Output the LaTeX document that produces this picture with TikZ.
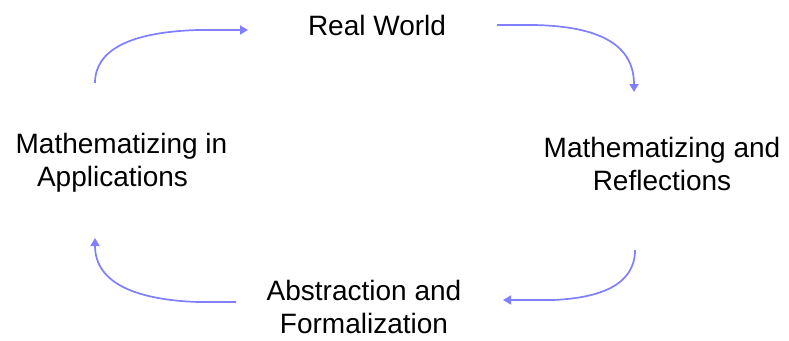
\documentclass[tikz,border=0pt]{standalone}
\usepackage{fontspec}
\setmainfont{Liberation Sans}
\usetikzlibrary{arrows.meta}
\definecolor{arrowblue}{RGB}{128,128,255}
\tikzset{
  lbl/.style={anchor=north, inner sep=0pt, align=center, font=\fontsize{28bp}{33bp}\selectfont, text=black},
  flow/.style={draw=arrowblue, line width=1.7bp, -{Triangle[length=8bp,width=9bp]}}
}
\begin{document}
\begin{tikzpicture}[x=1bp,y=-1bp]
\useasboundingbox[fill=white] (0,0) rectangle (789,340);
\node[lbl] (rw) at (377,15) {Real World};
\node[lbl] (mr) at (662,137) {Mathematizing and\\Reflections};
\node[lbl] (af) at (364,280) {Abstraction and\\Formalization};
\node[lbl] (ma) at (112.5,133) {\hspace*{18bp}Mathematizing in\\Applications};
\coordinate (a1s) at (95,83);
\coordinate (a1m) at (198,30);
\coordinate (a1e) at (248,30);
\coordinate (a2s) at (497,25);
\coordinate (a2m) at (533,25);
\coordinate (a2e) at (634,92);
\coordinate (a3s) at (635,250);
\coordinate (a3m) at (553,300);
\coordinate (a3e) at (503,300);
\coordinate (a4s) at (236,302);
\coordinate (a4m) at (198,302);
\coordinate (a4e) at (95,238);
\draw[flow] (a1s) .. controls (95,50) and (130,32) .. (a1m) -- (a1e);
\draw[flow] (a2s) -- (a2m) .. controls (600,26) and (634,45) .. (a2e);
\draw[flow] (a3s) .. controls (635,285) and (600,298) .. (a3m) -- (a3e);
\draw[flow] (a4s) -- (a4m) .. controls (140,300) and (95,285) .. (a4e);
\end{tikzpicture}
\end{document}
